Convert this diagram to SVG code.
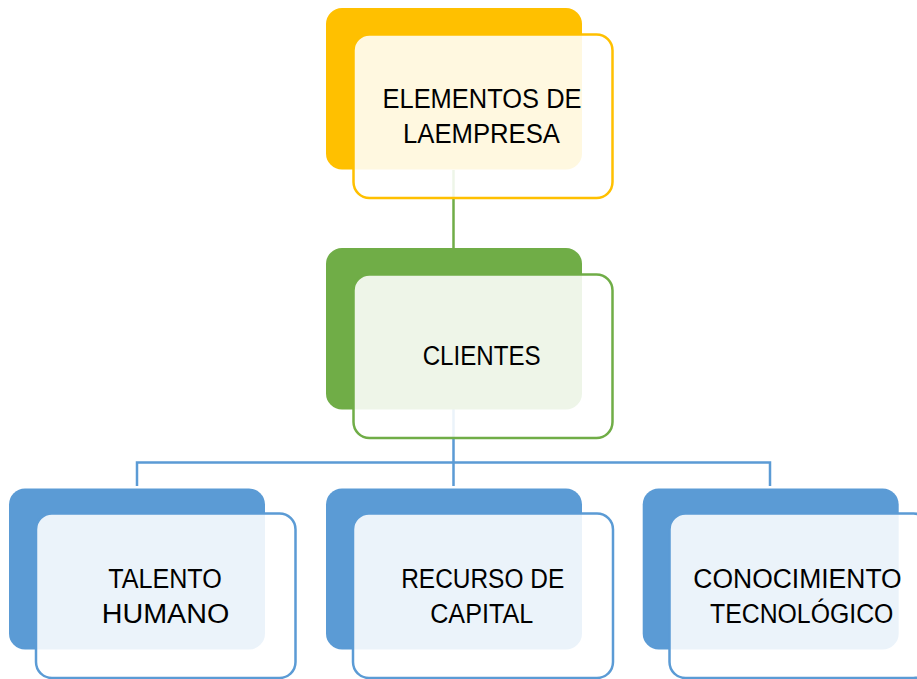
<svg xmlns="http://www.w3.org/2000/svg" width="917" height="679" viewBox="0 0 917 679">
<style>
.back{stroke:none}
.front{fill:#ffffff;fill-opacity:0.88;stroke-width:2.5}
.lbl{font-family:"Liberation Sans",Arial,sans-serif;font-size:27px;fill:#000000;text-anchor:middle}
.y .back{fill:#FFC000}.y .front{stroke:#FFC000}
.g .back{fill:#70AD47}.g .front{stroke:#70AD47}
.b .back{fill:#5B9BD5}.b .front{stroke:#5B9BD5}
.conn{fill:none;stroke-width:2.5}
</style>
<rect width="917" height="679" fill="#ffffff"/>
<g id="connectors">
<line class="conn" x1="453.5" y1="170" x2="453.5" y2="248" stroke="#70AD47"/>
<path class="conn" d="M453.5 409 V486 M137 486 V462.5 H770 V486" stroke="#5B9BD5"/>
</g>
<g id="node-elementos" class="y">
<rect class="back" x="326" y="8" width="256" height="161.5" rx="16"/>
<rect class="front" x="353.5" y="34.5" width="259" height="163.5" rx="16"/>
<text class="lbl" x="482" y="107.5" textLength="199" lengthAdjust="spacingAndGlyphs">ELEMENTOS DE</text>
<text class="lbl" x="481.5" y="142.5" textLength="157" lengthAdjust="spacingAndGlyphs">LAEMPRESA</text>
</g>
<g id="node-clientes" class="g">
<rect class="back" x="326" y="248" width="256" height="161.5" rx="16"/>
<rect class="front" x="353.5" y="274.5" width="259" height="163.5" rx="16"/>
<text class="lbl" x="481.7" y="365" textLength="118" lengthAdjust="spacingAndGlyphs">CLIENTES</text>
</g>
<g id="node-talento" class="b">
<rect class="back" x="9" y="488.5" width="256" height="161" rx="16"/>
<rect class="front" x="36" y="513.5" width="259.5" height="164.5" rx="16"/>
<text class="lbl" x="165" y="587.5" textLength="113.7" lengthAdjust="spacingAndGlyphs">TALENTO</text>
<text class="lbl" x="165.5" y="622.7" textLength="127.6" lengthAdjust="spacingAndGlyphs">HUMANO</text>
</g>
<g id="node-recurso" class="b">
<rect class="back" x="326" y="488.5" width="256" height="161" rx="16"/>
<rect class="front" x="353" y="513.5" width="260" height="164.5" rx="16"/>
<text class="lbl" x="482.7" y="587.7" textLength="163" lengthAdjust="spacingAndGlyphs">RECURSO DE</text>
<text class="lbl" x="481.7" y="622.7" textLength="103" lengthAdjust="spacingAndGlyphs">CAPITAL</text>
</g>
<g id="node-conocimiento" class="b">
<rect class="back" x="642.7" y="488.5" width="256" height="161" rx="16"/>
<rect class="front" x="669.5" y="513.5" width="260" height="164.5" rx="16"/>
<text class="lbl" x="797.5" y="587.5" textLength="208.4" lengthAdjust="spacingAndGlyphs">CONOCIMIENTO</text>
<text class="lbl" x="801.7" y="622.7" textLength="183.3" lengthAdjust="spacingAndGlyphs">TECNOLÓGICO</text>
</g>
</svg>
